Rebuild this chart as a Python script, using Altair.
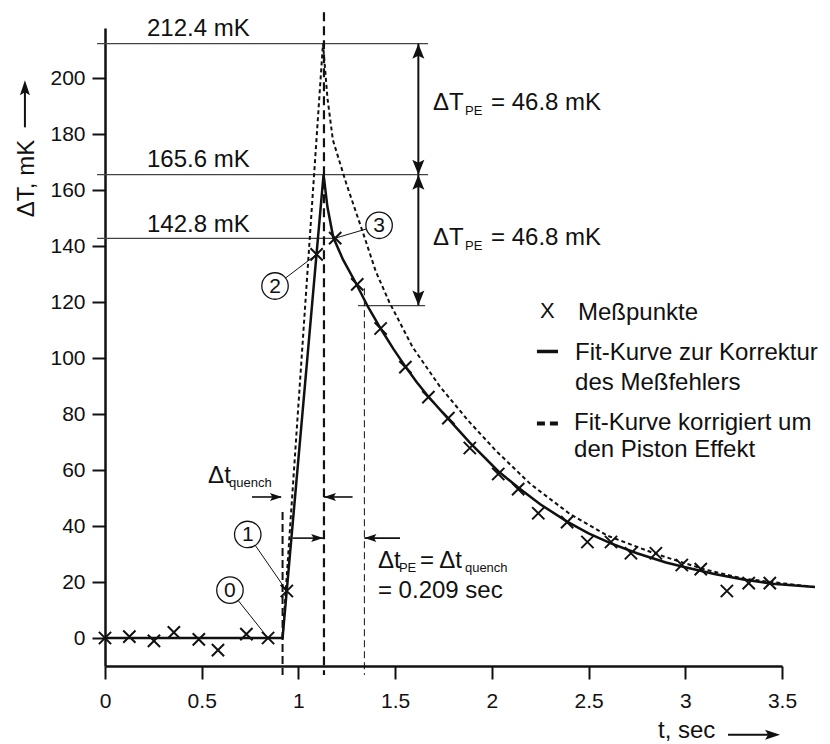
import altair as alt
import pandas as pd

FONT = "Liberation Sans"
INK = "#111111"

# ---- measured points (Meßpunkte) ----
t_meas = [0.0, 0.126, 0.253, 0.356, 0.485, 0.584, 0.731, 0.843, 0.94, 1.094,
          1.19, 1.304, 1.425, 1.553, 1.672, 1.775, 1.886, 2.033, 2.136, 2.24,
          2.389, 2.494, 2.616, 2.719, 2.848, 2.982, 3.08, 3.215, 3.328, 3.437]
dT_meas = [0.0, 0.5, -1.0, 2.0, -0.5, -4.3, 1.4, 0.0, 16.8, 137.1,
           142.9, 126.4, 110.6, 96.8, 86.1, 78.6, 67.9, 58.6, 53.2, 44.6,
           41.4, 34.3, 34.3, 30.3, 30.3, 26.1, 24.6, 16.8, 19.6, 19.6]

# ---- fit curve (measurement-error corrected), solid ----
t_fit = [0.0, 0.918, 1.13, 1.15, 1.18, 1.23, 1.298, 1.36, 1.425, 1.49, 1.553,
         1.61, 1.672, 1.775, 1.886, 2.033, 2.136, 2.25, 2.389, 2.5, 2.616,
         2.75, 2.9, 3.0, 3.15, 3.3, 3.45, 3.67]
dT_fit = [0.0, 0.0, 165.6, 154.0, 143.2, 135.3, 126.7, 118.3, 110.6, 103.4, 97.0,
          91.6, 86.2, 78.3, 69.8, 59.6, 53.8, 47.8, 41.6, 37.4, 33.8,
          30.3, 27.0, 25.3, 22.9, 20.9, 19.4, 18.2]

# ---- fit curve corrected for the piston effect, dashed ----
t_pe = [0.918, 1.127, 1.15, 1.178, 1.247, 1.333, 1.40, 1.47, 1.59, 1.73, 1.88,
        2.02, 2.2, 2.4, 2.6, 2.85, 3.1, 3.3, 3.67]
dT_pe = [0.0, 212.4, 193.0, 178.0, 162.5, 145.0, 131.0, 120.0, 104.0, 90.0, 77.5,
         67.0, 55.0, 44.5, 36.5, 30.0, 24.5, 21.2, 18.2]

x_ticks = [0, 0.5, 1, 1.5, 2, 2.5, 3, 3.5]
y_ticks = [0, 20, 40, 60, 80, 100, 120, 140, 160, 180, 200]

# reference levels
level_v = [212.4, 165.6, 142.8, 118.8]
level_t0 = [-0.041, -0.041, -0.041, 1.308]
level_t1 = [1.67, 1.67, 1.18, 1.655]
level_text = ["212.4 mK", "165.6 mK", "142.8 mK"]
level_text_v = [215.0, 168.3, 145.1]

# numbered markers
circ_t = [0.646, 0.738, 0.879, 1.417]
circ_v = [17.1, 37.0, 125.8, 147.5]
circ_lab = ["0", "1", "2", "3"]
circ_target_t = [0.843, 0.94, 1.094, 1.19]
circ_target_v = [0.0, 16.8, 137.1, 142.9]

W, H = 677, 638
xs = alt.Scale(domain=[0, 3.5], nice=False, zero=False)
ys = alt.Scale(domain=[-10, 218], nice=False, zero=False)

xaxis = alt.Axis(values=x_ticks, format="~g", tickSize=13, tickWidth=2,
                 domainWidth=2.5, domainColor=INK, tickColor=INK, labelFont=FONT,
                 labelFontSize=21, labelColor=INK, labelPadding=11,
                 labelFlush=False, grid=False, title="")
yaxis = alt.Axis(values=y_ticks, tickSize=13, tickWidth=2, domainWidth=2.5,
                 domainColor=INK, tickColor=INK, labelFont=FONT, labelFontSize=21,
                 labelColor=INK, labelPadding=7, labelFlush=False, grid=False,
                 title="")


def X(f="t"):
    return alt.X(f"{f}:Q", scale=xs, axis=xaxis)


def Y(f="v"):
    return alt.Y(f"{f}:Q", scale=ys, axis=yaxis)


def rules(t0, t1, v0, v1, width=1.0, color=INK, dash=None):
    df = pd.DataFrame({"t": t0, "t2": t1, "v": v0, "v2": v1})
    mk = dict(color=color, strokeWidth=width)
    if dash:
        mk["strokeDash"] = dash
    return alt.Chart(df).mark_rule(**mk).encode(
        x=X("t"), x2="t2:Q", y=Y("v"), y2="v2:Q")


def heads(ts, vs, shape, size):
    df = pd.DataFrame({"t": ts, "v": vs})
    return alt.Chart(df).mark_point(shape=shape, size=size, filled=True,
                                    color=INK, opacity=1, strokeWidth=0).encode(
        x=X(), y=Y())


def texts(ts, vs, ss, size=24, align="left", baseline="alphabetic",
          dx=0, dy=0, angle=0):
    df = pd.DataFrame({"t": ts, "v": vs, "s": ss})
    mk = dict(align=align, baseline=baseline, font=FONT, fontSize=size, color=INK)
    if dx:
        mk["dx"] = dx
    if dy:
        mk["dy"] = dy
    if angle:
        mk["angle"] = angle
    return alt.Chart(df).mark_text(**mk).encode(x=X(), y=Y(), text="s:N")


UP = "M0,0 L-1,2.5 L0,2 L1,2.5 Z"
DOWN = "M0,0 L-1,-2.5 L0,-2 L1,-2.5 Z"
RIGHT = "M0,0 L-3,-1 L-2.4,0 L-3,1 Z"
LEFT = "M0,0 L3,-1 L2.4,0 L3,1 Z"
XMARK = "M-1,-1 L1,1 M-1,1 L1,-1"

meas = alt.Chart(pd.DataFrame({"t": t_meas, "v": dT_meas})).mark_point(
    shape=XMARK, size=150, filled=False, color=INK, strokeWidth=2, opacity=1
).encode(x=X(), y=Y())

fit = alt.Chart(pd.DataFrame({"t": t_fit, "v": dT_fit})).mark_line(
    color=INK, strokeWidth=2.5).encode(x=X(), y=Y())
fit_pe = alt.Chart(pd.DataFrame({"t": t_pe, "v": dT_pe})).mark_line(
    color=INK, strokeWidth=2, strokeDash=[4, 3]).encode(x=X(), y=Y())

level_lines = rules(level_t0, level_t1, level_v, level_v, width=1.3, color="#444444")
level_labels = texts([0.217, 0.217, 0.217], level_text_v, level_text)

# vertical dashed markers
vthick1 = rules([0.918], [0.918], [45.0], [-13.2], width=2, dash=[8, 4])
vthick2 = rules([1.132], [1.132], [223.6], [-13.2], width=2.2, dash=[9, 5])
vthin = rules([1.341], [1.341], [125.0], [-13.2], width=1, dash=[7, 4])

# double arrows for ΔT_PE
darrow = rules([1.62, 1.62], [1.62, 1.62], [212.4, 165.6], [165.6, 118.8], width=2)
darrow_up = heads([1.62, 1.62], [212.4, 165.6], UP, 144)
darrow_dn = heads([1.62, 1.62], [165.6, 118.8], DOWN, 144)
dT_main = texts([1.696, 1.696], [188.6, 140.4], ["ΔT", "ΔT"])
dT_sub = texts([1.696, 1.696], [188.6, 140.4], ["PE", "PE"], size=13, dx=32, dy=5)
dT_val = texts([1.696, 1.696], [188.6, 140.4], ["= 46.8 mK", "= 46.8 mK"], dx=58)

# horizontal Δt arrows
harrow = rules([0.76, 1.28, 0.97, 1.525], [0.91, 1.132, 1.128, 1.341],
               [50.4, 50.4, 35.7, 35.7], [50.4, 50.4, 35.7, 35.7], width=1.6)
harrow_r = heads([0.915, 1.128], [50.4, 35.7], RIGHT, 64)
harrow_l = heads([1.132, 1.341], [50.4, 35.7], LEFT, 64)

dtq_main = texts([0.533], [55.4], ["Δt"])
dtq_sub = texts([0.533], [55.4], ["quench"], size=13, dx=21, dy=4.5)

dtpe_1 = texts([1.411], [25.0], ["Δt"])
dtpe_2 = texts([1.411], [25.0], ["PE"], size=13, dx=21, dy=4)
dtpe_3 = texts([1.411], [25.0], ["= Δt"], dx=42)
dtpe_4 = texts([1.411], [25.0], ["quench"], size=13, dx=87, dy=4)
dtpe_5 = texts([1.411], [14.2], ["= 0.209 sec"])

# numbered circles
leaders = rules(circ_t, circ_target_t, circ_v, circ_target_v, width=1)
circles = alt.Chart(pd.DataFrame({"t": circ_t, "v": circ_v})).mark_point(
    shape="circle", size=700, filled=True, fill="white", stroke=INK,
    strokeWidth=1.3, opacity=1).encode(x=X(), y=Y())
circ_text = texts(circ_t, circ_v, circ_lab, size=21, align="center",
                  baseline="middle", dy=1)

# legend
leg_x = texts([2.249], [114.2], ["X"], size=22)
leg_solid = rules([2.233], [2.342], [102.4], [102.4], width=3.5)
leg_dash = rules([2.233], [2.342], [76.7], [76.7], width=4, dash=[8, 5])
leg_text = texts([2.445, 2.43, 2.43, 2.425, 2.425],
                 [113.6, 99.3, 88.6, 74.3, 64.8],
                 ["Meßpunkte", "Fit-Kurve zur Korrektur", "des Meßfehlers",
                  "Fit-Kurve korrigiert um", "den Piston Effekt"])

# axis titles with arrows
ytitle = texts([-0.367], [164.2], ["ΔT, mK"], align="center", angle=270)
ytitle_arrow = rules([-0.414], [-0.414], [182.5], [196.0], width=2)
ytitle_head = heads([-0.414], [199.3], "M0,0 L-1,3 L0,2.4 L1,3 Z", 100)
xtitle = texts([2.859], [-35.6], ["t, sec"])
xtitle_arrow = rules([3.221], [3.46], [-34.6], [-34.6], width=2)
xtitle_head = heads([3.49], [-34.6], "M0,0 L-3,-1 L-2.4,0 L-3,1 Z", 100)

chart = alt.layer(
    meas, level_lines, vthick1, vthick2, vthin, fit_pe, fit,
    darrow, darrow_up, darrow_dn, harrow, harrow_r, harrow_l,
    leaders, circles, circ_text,
    level_labels, dT_main, dT_sub, dT_val, dtq_main, dtq_sub,
    dtpe_1, dtpe_2, dtpe_3, dtpe_4, dtpe_5,
    leg_x, leg_solid, leg_dash, leg_text,
    ytitle, ytitle_arrow, ytitle_head, xtitle, xtitle_arrow, xtitle_head,
).properties(
    width=W, height=H,
    padding={"left": 105, "top": 28, "right": 48, "bottom": 78},
    autosize=alt.AutoSizeParams(type="none"),
    background="white",
).configure_view(stroke="transparent")

chart.save("out.html", embed_options={"renderer": "svg", "actions": False})
